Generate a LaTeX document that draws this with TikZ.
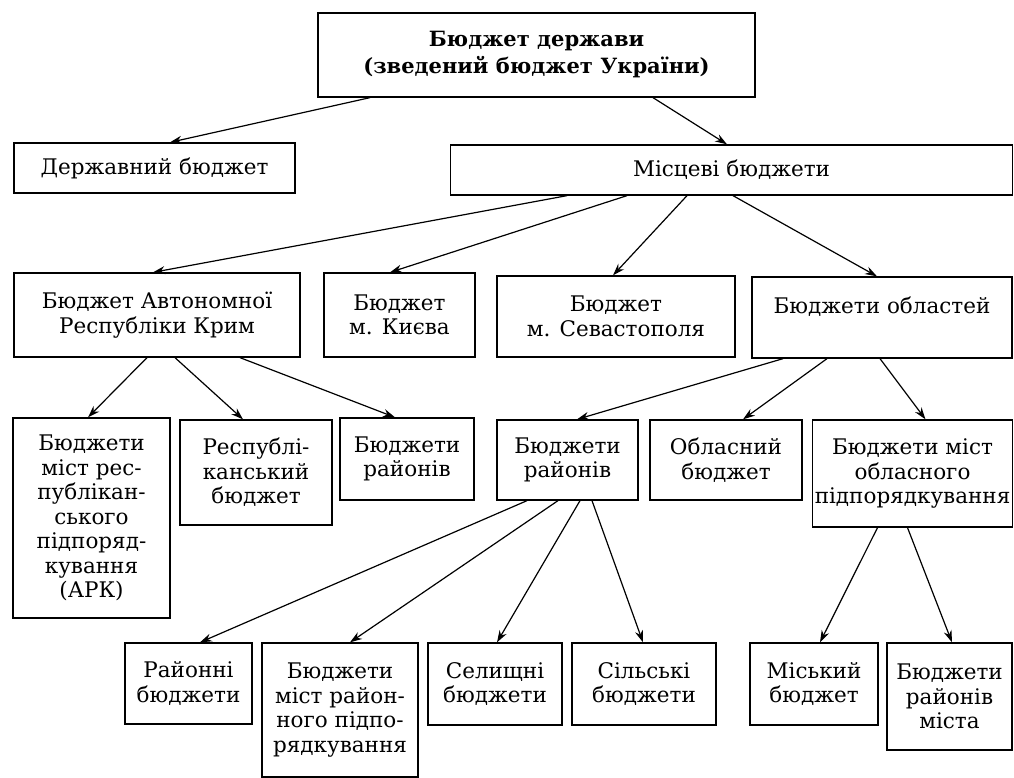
\documentclass[tikz,border=0pt]{standalone}
\usepackage{fontspec}
\setmainfont{DejaVu Serif}
\usetikzlibrary{arrows.meta}
\begin{document}
\begin{tikzpicture}[x=1pt,y=-1pt,
  box/.style={draw, line width=1.3pt, inner sep=0pt, align=center,
    font=\fontsize{21.5}{24.5}\selectfont},
  arr/.style={line width=1.2pt, -{Stealth[length=12pt,width=8pt]}}]
\useasboundingbox (0,0) rectangle (1014,778);
% nodes
\node[box, minimum width=437pt, minimum height=84pt, font=\fontsize{21}{27}\selectfont\bfseries] (top) at (536.5,55) {Бюджет держави\\(зведений бюджет України)};
\node[box, minimum width=281pt, minimum height=50pt] (derzh) at (154.5,168) {Державний бюджет};
\node[box, minimum width=562pt, minimum height=50pt] (misc) at (731.5,170) {Місцеві бюджети};
\node[box, minimum width=286pt, minimum height=84pt] (ark) at (157,315) {Бюджет Автономної\\Республіки Крим};
\node[box, minimum width=151pt, minimum height=84pt] (kyiv) at (399.5,315) {Бюджет\\м. Києва};
\node[box, minimum width=238pt, minimum height=81pt] (sev) at (616,316.5) {Бюджет\\м. Севастополя};
\node[box, minimum width=260pt, minimum height=81pt] (obl) at (882,317.5) {Бюджети областей\\\mbox{}};
\node[box, minimum width=157pt, minimum height=200pt] (mistark) at (91.5,518) {Бюджети\\міст рес-\\публікан-\\ського\\підпоряд-\\кування\\(АРК)};
\node[box, minimum width=152pt, minimum height=105pt] (respb) at (256,472.5) {Республі-\\канський\\бюджет};
\node[box, minimum width=134pt, minimum height=82pt] (raiark) at (407,459) {Бюджети\\районів};
\node[box, minimum width=141pt, minimum height=80pt] (raiobl) at (567.5,460) {Бюджети\\районів};
\node[box, minimum width=152pt, minimum height=80pt] (oblb) at (726,460) {Обласний\\бюджет};
\node[box, minimum width=200pt, minimum height=107pt] (mistobl) at (912.5,473.5) {Бюджети міст\\обласного\\підпорядкування};
\node[box, minimum width=127pt, minimum height=81pt] (raionni) at (188.5,683.5) {Районні\\бюджети};
\node[box, minimum width=156pt, minimum height=134pt] (mistrai) at (340,710) {Бюджети\\міст район-\\ного підпо-\\рядкування};
\node[box, minimum width=134pt, minimum height=82pt] (selyshch) at (495,684) {Селищні\\бюджети};
\node[box, minimum width=144pt, minimum height=82pt] (silski) at (644,684) {Сільські\\бюджети};
\node[box, minimum width=128pt, minimum height=82pt] (misky) at (814,684) {Міський\\бюджет};
\node[box, minimum width=125pt, minimum height=107pt] (raimista) at (949.5,696.5) {Бюджети\\районів\\міста};
% arrows
\draw[arr] ([xshift=-166.5pt]top.south) -- ([xshift=15.5pt]derzh.north);
\draw[arr] ([xshift=116.5pt]top.south) -- ([xshift=-4.5pt]misc.north);
\draw[arr] ([xshift=-164.5pt]misc.south) -- ([xshift=-4pt]ark.north);
\draw[arr] ([xshift=-104.5pt]misc.south) -- ([xshift=-9.5pt]kyiv.north);
\draw[arr] ([xshift=-44.5pt]misc.south) -- ([xshift=-3pt]sev.north);
\draw[arr] ([xshift=1.5pt]misc.south) -- ([xshift=-5pt]obl.north);
\draw[arr] ([xshift=-10pt]ark.south) -- ([xshift=-3.5pt]mistark.north);
\draw[arr] ([xshift=18pt]ark.south) -- ([xshift=-13pt]respb.north);
\draw[arr] ([xshift=83pt]ark.south) -- ([xshift=-12pt]raiark.north);
\draw[arr] ([xshift=-99pt]obl.south) -- ([xshift=9.5pt]raiobl.north);
\draw[arr] ([xshift=-55pt]obl.south) -- ([xshift=17pt]oblb.north);
\draw[arr] ([xshift=-2pt]obl.south) -- ([xshift=13pt]mistobl.north);
\draw[arr] ([xshift=-40.5pt]raiobl.south) -- ([xshift=11.5pt]raionni.north);
\draw[arr] ([xshift=-9.5pt]raiobl.south) -- ([xshift=10pt]mistrai.north);
\draw[arr] ([xshift=12.5pt]raiobl.south) -- ([xshift=2pt]selyshch.north);
\draw[arr] ([xshift=24.5pt]raiobl.south) -- ([xshift=-1pt]silski.north);
\draw[arr] ([xshift=-35pt]mistobl.south) -- ([xshift=6pt]misky.north);
\draw[arr] ([xshift=-5pt]mistobl.south) -- ([xshift=2.5pt]raimista.north);
\end{tikzpicture}
\end{document}
